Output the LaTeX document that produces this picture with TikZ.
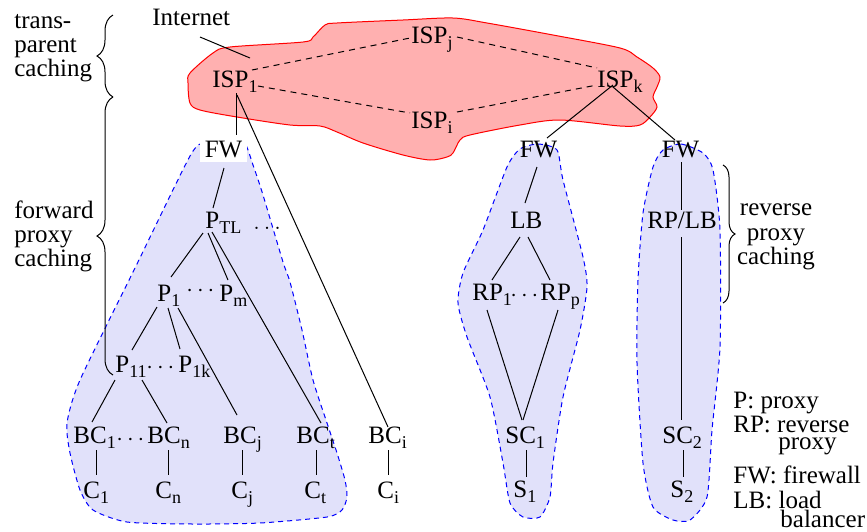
\documentclass[tikz,border=0pt]{standalone}
\usepackage{fontspec}
\setmainfont{Liberation Serif}
\usetikzlibrary{calc,decorations.pathreplacing}
\newcommand\sbs[1]{\raisebox{-2.7pt}{\fontsize{9}{9}\selectfont #1}}
\definecolor{cloudfill}{RGB}{255,176,176}
\definecolor{bluefill}{RGB}{225,225,250}
\begin{document}
\begin{tikzpicture}[x=0.5pt,y=-0.5pt,
  every node/.style={font=\fontsize{12.5}{14}\selectfont, inner sep=0pt},
  lbl/.style={anchor=base west},
  ctr/.style={anchor=base},
  edge/.style={draw=black, line width=0.5pt},
  isplink/.style={draw=black, line width=0.5pt, dash pattern=on 3pt off 2.5pt},
  region/.style={draw=blue, fill=bluefill, line width=0.5pt, dash pattern=on 2.5pt off 2pt},
  cloud/.style={draw=red, fill=cloudfill, line width=0.5pt},
  brcl/.style={decorate, decoration={brace, amplitude=8pt}, line width=0.5pt},
  brcr/.style={decorate, decoration={brace, amplitude=6pt}, line width=0.5pt},
  fwbox/.style={anchor=base, fill=white, inner xsep=2.5pt, inner ysep=2.5pt}]
\useasboundingbox (0,0) rectangle (867,531);

% Internet cloud
\draw[cloud] plot[smooth cycle, tension=0.5] coordinates {(190,73) (213,53) (230,47) (303,42) (313,37) (325,25) (337,23) (403,20) (453,18) (487,23) (553,35) (620,48) (637,57) (653,68) (660,77) (657,87) (653,97) (657,107) (650,117) (640,125) (620,126) (560,120) (520,125) (470,135) (460,140) (453,153) (447,157) (430,160) (403,155) (363,143) (337,132) (320,126) (290,125) (237,117) (200,110) (190,103) (188,83)};

% caching regions
\draw[region] plot[smooth cycle, tension=0.4] coordinates {(190,156) (205,142) (224,137) (244,142) (253,165) (263,195) (283,262) (290,282) (302,330) (313,380) (327,423) (337,453) (345,480) (347,497) (342,510) (327,517) (260,523) (193,524) (127,522) (93,510) (80,490) (70,453) (67,423) (80,380) (135,268)};
\draw[region] plot[smooth cycle, tension=0.4] coordinates {(520,149) (538,144) (557,150) (563,180) (583,257) (587,287) (580,330) (563,397) (553,463) (550,497) (540,517) (523,517) (510,503) (503,463) (490,397) (467,337) (458,303) (463,273) (483,230) (507,167)};
\draw[region] plot[smooth cycle, tension=0.4] coordinates {(663,150) (681,144) (703,153) (713,170) (720,230) (720,347) (712,430) (707,497) (690,520) (673,520) (653,507) (643,463) (637,363) (638,280) (643,213) (653,167)};

% braces
\coordinate (b1top) at (113,15);
\coordinate (b1bot) at (113,97);
\coordinate (b2bot) at (113,375);
\coordinate (b3top) at (723,165);
\coordinate (b3bot) at (723,303);
\draw[brcl] (b1bot) -- (b1top);
\draw[brcl] (b2bot) -- (b1bot);
\draw[brcr] (b3top) -- (b3bot);

% side labels
\node[lbl] (trans) at (14,28) {trans-};
\node[lbl] (parent) at (14,52) {parent};
\node[lbl] (cachingA) at (14,76) {caching};
\node[lbl] (forward) at (14,218) {forward};
\node[lbl] (proxyA) at (14,242) {proxy};
\node[lbl] (cachingB) at (14,266) {caching};
\node[ctr] (reverse) at (776,215) {reverse};
\node[ctr] (proxyB) at (776,240) {proxy};
\node[ctr] (cachingC) at (776,264) {caching};

% legend
\node[lbl] (legp) at (733,408) {P: proxy};
\node[lbl] (legrp) at (733,432) {RP: reverse};
\node[lbl] (legrpb) at (778,449) {proxy};
\node[lbl] (legfw) at (733,483) {FW: firewall};
\node[lbl] (leglb) at (733,508) {LB: load};
\node[lbl] (leglbb) at (780,527) {balancer};

% Internet
\node[lbl] (internet) at (152,25) {Internet};
\coordinate (netpt) at (250,58);
\node[lbl] (isp1) at (212,87) {ISP\sbs{1}};
\node[lbl] (ispj) at (411,43) {ISP\sbs{j}};
\node[lbl] (ispi) at (411,128) {ISP\sbs{i}};
\node[lbl] (ispk) at (597,87) {ISP\sbs{k}};

% firewalls
\node[fwbox] (fw1) at (223.5,157) {FW};
\node[ctr] (fw2) at (538.5,157) {FW};
\node[ctr] (fw3) at (680.5,157) {FW};

% forward proxy tree
\node[lbl] (ptl) at (205,228) {P\sbs{TL}};
\node[lbl] (ptldots) at (253,229) {$\ldots$};
\node[lbl] (p1) at (157,301) {P\sbs{1}};
\node[lbl] (p1dots) at (186,296) {$\cdots$};
\node[lbl] (pm) at (219,301) {P\sbs{m}};
\node[lbl] (p11) at (115,372) {P\sbs{11}};
\node[lbl] (p11dots) at (146,373) {$\cdots$};
\node[lbl] (p1k) at (178,372) {P\sbs{1k}};
\node[lbl] (bc1) at (73,443) {BC\sbs{1}};
\node[lbl] (bcdots) at (116,445) {$\cdots$};
\node[lbl] (bcn) at (147,443) {BC\sbs{n}};
\node[lbl] (bcj) at (223,443) {BC\sbs{j}};
\node[lbl] (bct) at (296,443) {BC\sbs{t}};
\node[lbl] (bci) at (368,443) {BC\sbs{i}};
\node[lbl] (c1) at (83,498) {C\sbs{1}};
\node[lbl] (cn) at (155,498) {C\sbs{n}};
\node[lbl] (cj) at (231,498) {C\sbs{j}};
\node[lbl] (ct) at (304,498) {C\sbs{t}};
\node[lbl] (ci) at (377,498) {C\sbs{i}};

% middle tree
\node[lbl] (lb) at (510,228) {LB};
\node[lbl] (rp1) at (472,300) {RP\sbs{1}};
\node[lbl] (rpdots) at (510,301) {$\cdots$};
\node[lbl] (rpp) at (540,300) {RP\sbs{p}};
\node[lbl] (sc1) at (505,443) {SC\sbs{1}};
\node[lbl] (s1) at (513,497) {S\sbs{1}};

% right tree
\node[lbl] (rplb) at (647,228) {RP/LB};
\node[lbl] (sc2) at (662,443) {SC\sbs{2}};
\node[lbl] (s2) at (670,497) {S\sbs{2}};

% connectors
\draw[edge] ($(internet.base west)+(48,12)$) -- (netpt);
\draw[isplink] ($(isp1.base west)+(40,-17)$) -- ($(ispj.base west)+(-1,-5)$);
\draw[isplink] ($(isp1.base west)+(46,-1)$) -- ($(ispi.base west)+(-1,-15)$);
\draw[isplink] ($(ispj.base west)+(46,-6)$) -- ($(ispk.base west)+(0,-19)$);
\draw[isplink] ($(ispi.base west)+(46,-16)$) -- ($(ispk.base west)+(0,-2)$);

\draw[edge] ($(isp1.base west)+(24,6)$) -- ($(fw1.base)+(12.5,-22)$);
\draw[edge] ($(isp1.base west)+(25,8)$) -- ($(bci.base west)+(20,-16)$);
\draw[edge] ($(ispk.base west)+(16,-2)$) -- ($(fw2.base)+(8.5,-19)$);
\draw[edge] ($(ispk.base west)+(16,0)$) -- ($(fw3.base)+(-5.5,-17)$);

\draw[edge] ($(fw1.base)+(0.5,11)$) -- ($(ptl.base west)+(8,-20)$);
\draw[edge] ($(ptl.base west)+(-2,5)$) -- ($(p1.base west)+(14,-24)$);
\draw[edge] ($(ptl.base west)+(3,5)$) -- ($(pm.base west)+(9,-21)$);
\draw[edge] ($(ptl.base west)+(7,4)$) -- ($(bct.base west)+(25,-20)$);
\draw[edge] ($(p1.base west)+(0,6)$) -- ($(p11.base west)+(17,-22)$);
\draw[edge] ($(p1.base west)+(11,7)$) -- ($(p1k.base west)+(2,-23)$);
\draw[edge] ($(p1.base west)+(21,7)$) -- ($(bcj.base west)+(14,-28)$);
\draw[edge] ($(p11.base west)+(0,8)$) -- ($(bc1.base west)+(19,-21)$);
\draw[edge] ($(p11.base west)+(27,8)$) -- ($(bcn.base west)+(20,-20)$);
\draw[edge] ($(bc1.base west)+(23,7)$) -- ($(c1.base west)+(13,-23)$);
\draw[edge] ($(bcn.base west)+(21,7)$) -- ($(cn.base west)+(13,-23)$);
\draw[edge] ($(bcj.base west)+(19,7)$) -- ($(cj.base west)+(11,-23)$);
\draw[edge] ($(bct.base west)+(20,7)$) -- ($(ct.base west)+(12,-23)$);
\draw[edge] ($(bci.base west)+(20,7)$) -- ($(ci.base west)+(11,-23)$);

\draw[edge] ($(fw2.base)+(-1.5,10)$) -- ($(lb.base west)+(15,-25)$);
\draw[edge] ($(lb.base west)+(10,9)$) -- ($(rp1.base west)+(20,-20)$);
\draw[edge] ($(lb.base west)+(18,9)$) -- ($(rpp.base west)+(10,-20)$);
\draw[edge] ($(rp1.base west)+(15,10)$) -- ($(sc1.base west)+(17,-23)$);
\draw[edge] ($(rpp.base west)+(18,10)$) -- ($(sc1.base west)+(18,-23)$);
\draw[edge] ($(sc1.base west)+(21,7)$) -- ($(s1.base west)+(13,-20)$);

\draw[edge] ($(fw3.base)+(0.5,5)$) -- ($(rplb.base west)+(34,-18)$);
\draw[edge] ($(rplb.base west)+(34,9)$) -- ($(sc2.base west)+(19,-23)$);
\draw[edge] ($(sc2.base west)+(21,7)$) -- ($(s2.base west)+(13,-20)$);
\end{tikzpicture}
\end{document}
